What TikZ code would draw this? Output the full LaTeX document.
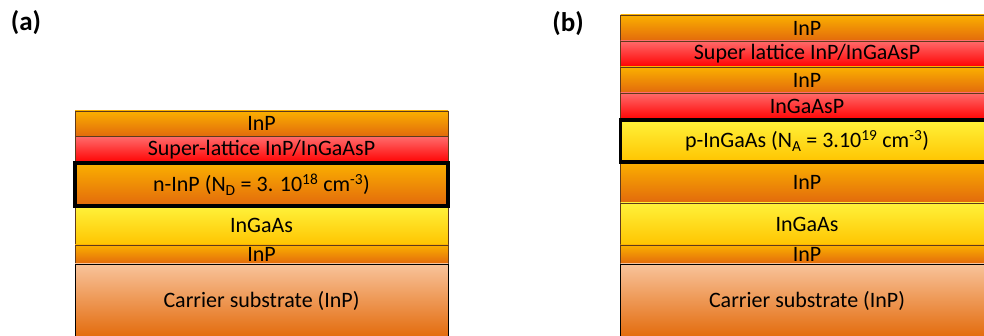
\documentclass[tikz,border=0pt]{standalone}
\usepackage{fontspec}
\setmainfont{Carlito}
\usetikzlibrary{positioning}

\definecolor{orangetop}{HTML}{FBB000}
\definecolor{orangebot}{HTML}{E2690C}
\definecolor{redtop}{HTML}{FF6A6A}
\definecolor{redbot}{HTML}{FF0000}
\definecolor{yellowtop}{HTML}{FFF23A}
\definecolor{yellowbot}{HTML}{FFC400}
\definecolor{subtop}{HTML}{F8C39B}
\definecolor{subbot}{HTML}{E36A0A}
\definecolor{layerline}{HTML}{5E3A1C}

\tikzset{
  layer/.style={rectangle, draw=layerline, line width=0.8pt, inner sep=0pt, outer sep=0pt,
                minimum width=373pt, font=\fontsize{22}{24}\selectfont},
  inp/.style={layer, top color=orangetop, bottom color=orangebot},
  quat/.style={layer, top color=redtop, bottom color=redbot},
  ingaas/.style={layer, top color=yellowtop, middle color=yellowtop!80!yellowbot, bottom color=yellowbot},
  substrate/.style={layer, draw=black, top color=subtop, bottom color=subbot},
  doped/.style={draw=black, line width=3.5pt},
  panel/.style={font=\fontsize{27}{30}\selectfont\bfseries}
}

\begin{document}
\begin{tikzpicture}[x=1pt, y=-1pt]
    \useasboundingbox (0,0) rectangle (984,336);

    % (a)
    \node[panel] (la) at (26,23) {(a)};
    \node[inp, minimum height=25.7pt, anchor=north] (a1) at (261.5,111) {InP};
    \node[quat, minimum height=26.3pt, below=0pt of a1] (a2) {Super-lattice InP/InGaAsP};
    \node[inp, minimum height=43pt, below=0pt of a2] (a3) {n-InP (N\textsubscript{D} = 3. 10\textsuperscript{18} cm\textsuperscript{-3})};
    \node[ingaas, minimum height=39pt, below=0pt of a3] (a4) {InGaAs};
    \node[inp, minimum height=19pt, below=0pt of a4] (a5) {InP};
    \node[substrate, minimum height=74pt, below=0pt of a5] (a6) {Carrier substrate (InP)};
    \draw[doped] (a3.north west) rectangle (a3.south east);

    % (b)
    \node[panel] (lb) at (568,24) {(b)};
    \node[inp, minimum height=26pt, anchor=north] (b1) at (807,15) {InP};
    \node[quat, minimum height=26pt, below=0pt of b1] (b2) {Super lattice InP/InGaAsP};
    \node[inp, minimum height=26pt, below=0pt of b2] (b3) {InP};
    \node[quat, minimum height=27pt, below=0pt of b3] (b4) {InGaAsP};
    \node[ingaas, minimum height=42pt, below=0pt of b4] (b5) {p-InGaAs (N\textsubscript{A} = 3.10\textsuperscript{19} cm\textsuperscript{-3})};
    \node[inp, minimum height=41pt, below=0pt of b5] (b6) {InP};
    \node[ingaas, minimum height=42pt, below=0pt of b6] (b7) {InGaAs};
    \node[inp, minimum height=19pt, below=0pt of b7] (b8) {InP};
    \node[substrate, minimum height=74pt, below=0pt of b8] (b9) {Carrier substrate (InP)};
    \draw[doped] (b5.north west) rectangle (b5.south east);
\end{tikzpicture}
\end{document}
